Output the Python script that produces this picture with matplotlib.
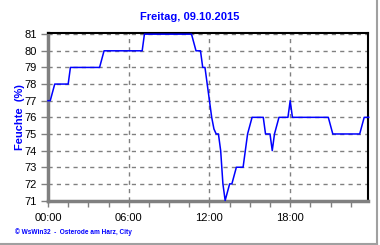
import matplotlib
matplotlib.use("Agg")
import matplotlib.pyplot as plt
from matplotlib.ticker import MultipleLocator, FuncFormatter
from matplotlib.lines import Line2D

# Messzeiten (Stunde:Minute) und relative Feuchte in %
zeiten = ["00:00", "00:10", "00:20", "00:30", "01:30", "01:40", "03:50", "04:00",
          "04:10", "07:00", "07:10", "10:40", "10:50", "11:00", "11:20", "11:30",
          "11:40", "11:50", "12:00", "12:10", "12:20", "12:30", "12:40", "12:50",
          "13:00", "13:10", "13:20", "13:30", "13:40", "14:00", "14:30", "14:40",
          "14:50", "15:10", "15:50", "16:00", "16:10", "16:30", "16:40", "16:50",
          "17:10", "17:50", "18:00", "18:10", "20:50", "21:10", "23:10", "23:30",
          "23:50"]
feuchte = [77, 77, 77.5, 78, 78, 79, 79, 79.5,
           80, 80, 81, 81, 80.5, 80, 80, 79,
           79, 78, 77, 76, 75.3, 75, 75, 74,
           72, 71, 71.5, 72, 72, 73, 73, 74,
           75, 76, 76, 76, 75, 75, 74, 75,
           76, 76, 77, 76, 76, 75, 75, 76,
           76]

titel = "Freitag, 09.10.2015"
y_titel = "Feuchte  (%)"
fusszeile = "\u00a9 WsWin32  -  Osterode am Harz, City"

stunden = [int(t[:2]) + int(t[3:]) / 60 for t in zeiten]

blau = "#0000ff"
plt.rcParams["font.family"] = ["Liberation Sans", "DejaVu Sans"]

fig = plt.figure(figsize=(3.8, 2.45), dpi=100)
ax = fig.add_axes([0.1263, 0.1816, 0.842, 0.6837])

ax.plot(stunden, feuchte, color=blau, lw=1.1, zorder=3, clip_on=False)

ax.set_xlim(0, 23.78)
ax.set_ylim(71, 81.07)
ax.set_yticks(range(71, 82))
ax.xaxis.set_major_locator(MultipleLocator(6))
ax.xaxis.set_minor_locator(MultipleLocator(1.5))
ax.xaxis.set_major_formatter(FuncFormatter(lambda v, p: "%02d:00" % int(v)))

ax.grid(True, which="major", color="#808080", ls=(0, (3, 3)), lw=1)
ax.tick_params(axis="both", which="both", direction="out", color="#808080",
               labelsize=8, width=1)
ax.tick_params(axis="x", which="both", length=4, pad=5)
ax.tick_params(axis="y", length=5, pad=3)

for s in ["left", "bottom"]:
    ax.spines[s].set_color("#808080")
    ax.spines[s].set_linewidth(2.5)
for s in ["top", "right"]:
    ax.spines[s].set_color("black")
    ax.spines[s].set_linewidth(1.5)

fig.text(0.5, 0.93, titel, color=blau, fontsize=8, fontweight="bold",
         ha="center", va="center")
fig.text(0.052, 0.524, y_titel, color=blau, fontsize=8, fontweight="bold",
         rotation=90, ha="center", va="center")
fig.text(0.04, 0.053, fusszeile, color=blau, fontsize=4.7, fontweight="bold",
         ha="left", va="center")

# grauer Rahmen rechts und unten
fig.add_artist(Line2D([0, 0.992], [0.004, 0.004], color="#a0a0a0", lw=1.5,
                      transform=fig.transFigure))
fig.add_artist(Line2D([0.992, 0.992], [0.004, 1], color="#a0a0a0", lw=1.5,
                      transform=fig.transFigure))

fig.savefig("out.png", dpi=100)
